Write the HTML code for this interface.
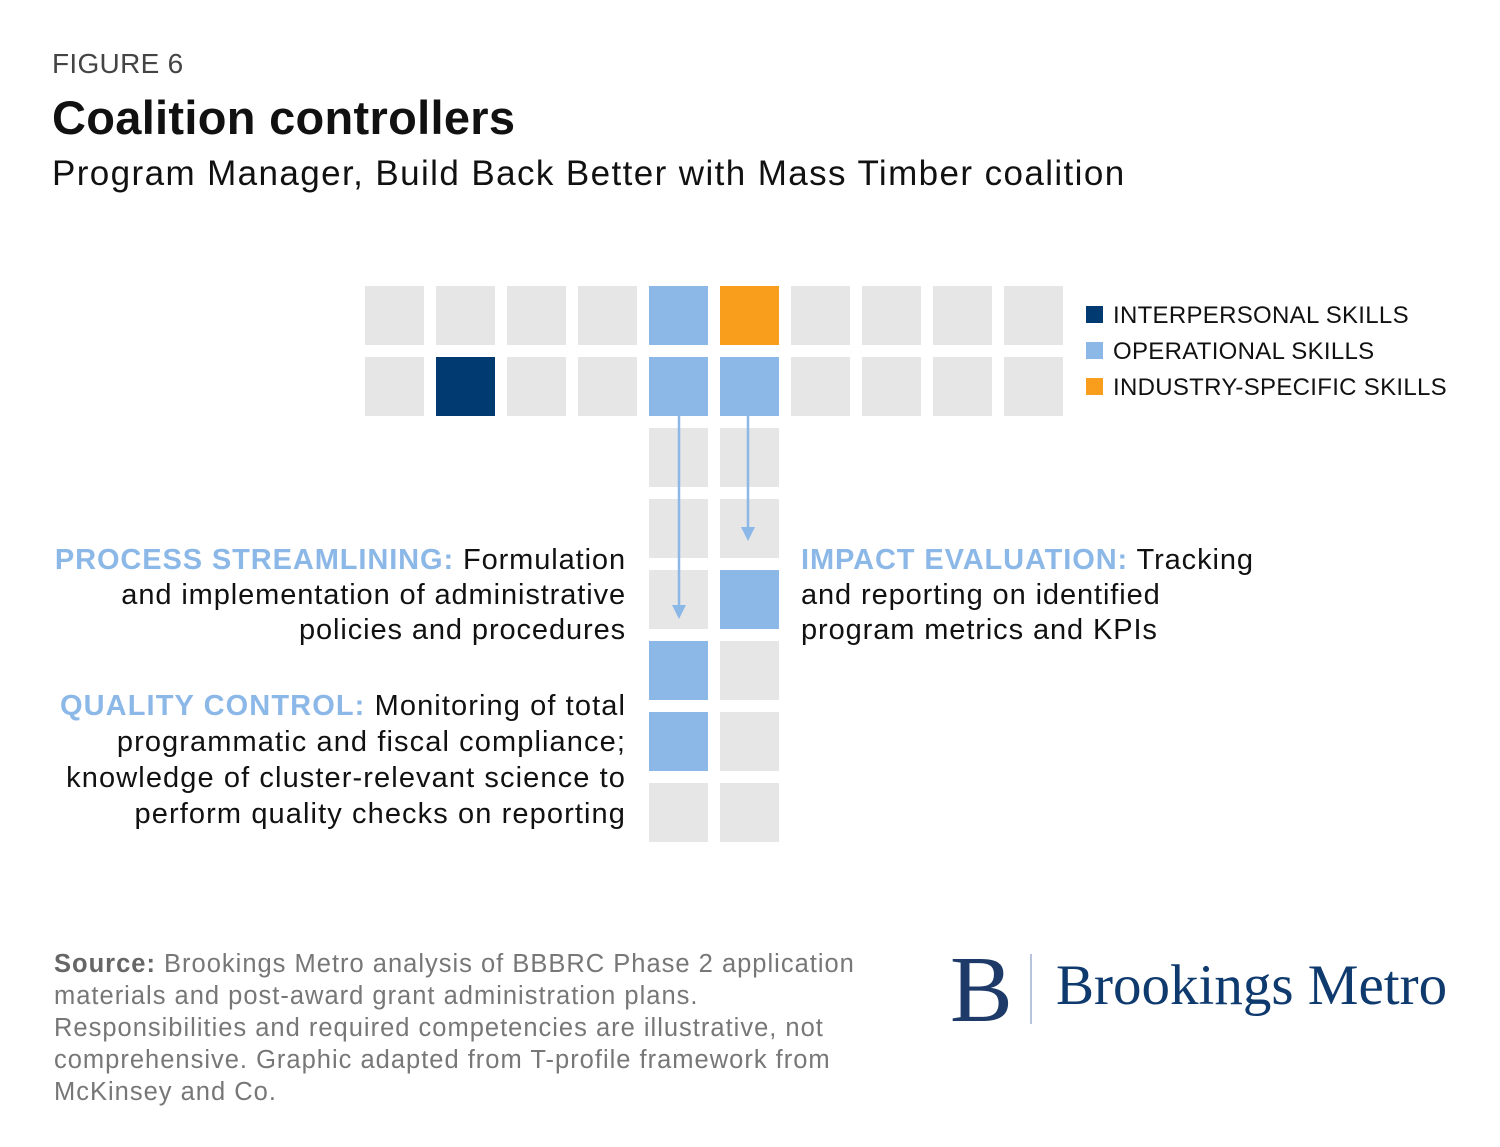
<!DOCTYPE html>
<html><head><meta charset="utf-8">
<style>
body{margin:0;width:1500px;height:1147px;background:#fff;position:relative;overflow:hidden;font-family:"Liberation Sans",sans-serif;color:#111}
.t{position:absolute;white-space:nowrap}
.hl{color:#8cb8e8;font-weight:bold}
</style></head><body>
<div class="t" style="left:52px;top:48px;font-size:28px;color:#444;letter-spacing:0.3px">FIGURE 6</div>
<div class="t" style="left:52px;top:90px;font-size:47px;font-weight:bold;color:#111;letter-spacing:0.3px">Coalition controllers</div>
<div class="t" style="left:52px;top:154px;font-size:35px;color:#111;letter-spacing:1.4px">Program Manager, Build Back Better with Mass Timber coalition</div>

<svg id="grid" style="position:absolute;left:0;top:0" width="1500" height="1147"></svg>

<div style="position:absolute;left:1086px;top:298px;font-size:24px;line-height:36px;color:#111;letter-spacing:0.3px">
<div><span style="display:inline-block;width:17px;height:17px;background:#003a70;margin-right:10px"></span>INTERPERSONAL SKILLS</div>
<div><span style="display:inline-block;width:17px;height:17px;background:#8cb8e8;margin-right:10px"></span>OPERATIONAL SKILLS</div>
<div><span style="display:inline-block;width:17px;height:17px;background:#f99d1c;margin-right:10px"></span>INDUSTRY-SPECIFIC SKILLS</div>
</div>

<div style="position:absolute;right:874px;top:543px;text-align:right;font-size:29px;line-height:35px;white-space:nowrap;letter-spacing:0.9px"><span class="hl">PROCESS STREAMLINING:</span> Formulation<br>and implementation of administrative<br>policies and procedures</div>
<div style="position:absolute;right:874px;top:688px;text-align:right;font-size:29px;line-height:36px;white-space:nowrap;letter-spacing:1.1px"><span class="hl">QUALITY CONTROL:</span> Monitoring of total<br>programmatic and fiscal compliance;<br>knowledge of cluster-relevant science to<br>perform quality checks on reporting</div>
<div style="position:absolute;left:801px;top:543px;font-size:29px;line-height:35px;white-space:nowrap;letter-spacing:0.9px"><span class="hl">IMPACT EVALUATION:</span> Tracking<br>and reporting on identified<br>program metrics and KPIs</div>

<div style="position:absolute;left:54px;top:948px;font-size:25.5px;line-height:32px;color:#777;white-space:nowrap;letter-spacing:1px"><b style="color:#666">Source:</b> Brookings Metro analysis of BBBRC Phase 2 application<br>materials and post-award grant administration plans.<br>Responsibilities and required competencies are illustrative, not<br>comprehensive. Graphic adapted from T-profile framework from<br>McKinsey and Co.</div>

<div style="position:absolute;left:950px;top:940px;height:100px;font-family:'Liberation Serif',serif;color:#0f3a6e">
<span class="t" style="left:0;top:0;font-size:94px;line-height:100px;color:#1d3a68">B</span>
<span class="t" style="left:80px;top:14px;width:2px;height:70px;background:#b8c4dc"></span>
<span class="t" style="left:106px;top:16px;font-size:57px;line-height:60px">Brookings Metro</span>
</div>

<script>
const colX=[365,436,507,578,649,720,791,862,933,1004];
const rowY=[286,357,428,499,570,641,712,783];
// cell categories: 0 gray,1 navy,2 blue,3 orange
const topRow=[0,0,0,0,2,3,0,0,0,0];
const secondRow=[0,1,0,0,2,2,0,0,0,0];
const stemCol4=[0,0,0,2,2,0];
const stemCol5=[0,0,2,0,0,0];
const colors=["#e6e6e6","#003a70","#8cb8e8","#f99d1c"];
const svg=document.getElementById('grid');
const NS='http://www.w3.org/2000/svg';
function cell(x,y,c,name){
 const r=document.createElementNS(NS,'rect');
 r.setAttribute('x',x);r.setAttribute('y',y);r.setAttribute('width',59);r.setAttribute('height',59);
 r.setAttribute('fill',colors[c]);
 
 
 svg.appendChild(r);
}
topRow.forEach((c,i)=>cell(colX[i],rowY[0],c,'cell-top-'+i));
secondRow.forEach((c,i)=>cell(colX[i],rowY[1],c,'cell-second-'+i));
stemCol4.forEach((c,i)=>cell(colX[4],rowY[i+2],c,'cell-stem-a-'+i));
stemCol5.forEach((c,i)=>cell(colX[5],rowY[i+2],c,'cell-stem-b-'+i));
function arrow(x,y1,y2,name){
 const l=document.createElementNS(NS,'line');
 l.setAttribute('x1',x);l.setAttribute('x2',x);l.setAttribute('y1',y1);l.setAttribute('y2',y2-12);
 l.setAttribute('stroke','#8cb8e8');l.setAttribute('stroke-width',2.5);
 
 
 svg.appendChild(l);
 const p=document.createElementNS(NS,'polygon');
 p.setAttribute('points',`${x-7},${y2-14} ${x+7},${y2-14} ${x},${y2}`);
 p.setAttribute('fill','#8cb8e8');
 
 
 svg.appendChild(p);
}
arrow(679,416,619,'arrow-process');
arrow(748,416,541,'arrow-impact');
</script>
</body></html>
